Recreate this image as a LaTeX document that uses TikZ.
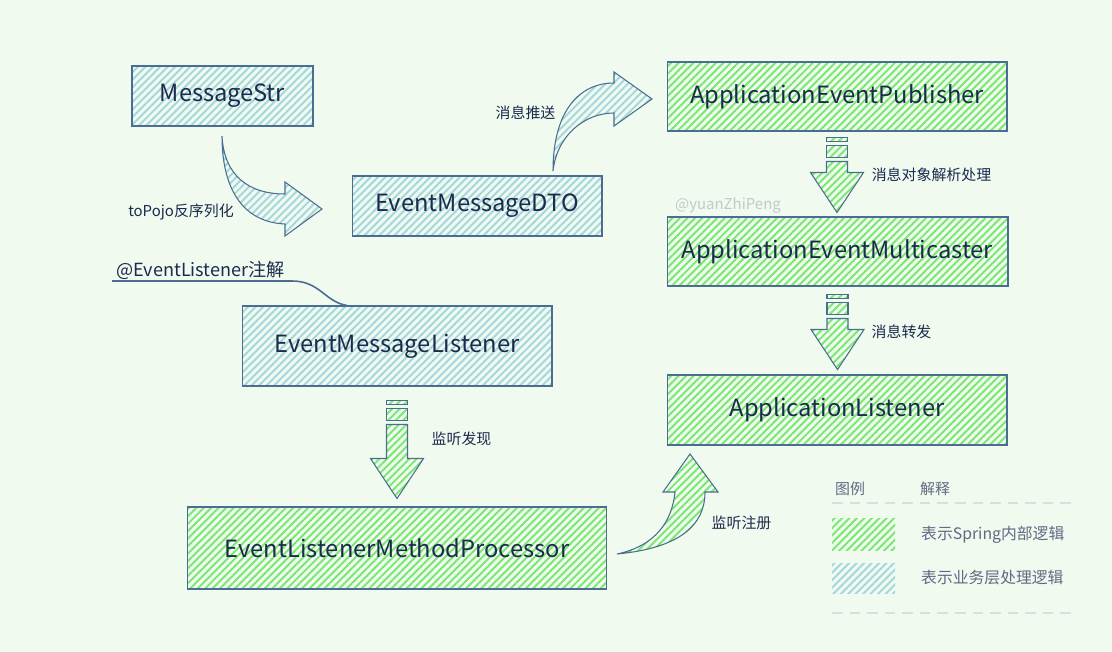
\documentclass[tikz,border=0pt]{standalone}
\usepackage{fontspec}
\setmainfont{Noto Sans CJK SC}
\usetikzlibrary{patterns.meta}

\definecolor{bgcol}{RGB}{240,250,239}
\definecolor{edgecol}{RGB}{74,110,145}
\definecolor{inkcol}{RGB}{28,42,78}
\definecolor{hatchgreen}{RGB}{120,232,112}
\definecolor{hatchblue}{RGB}{164,214,222}
\definecolor{dashcol}{RGB}{218,222,226}
\definecolor{markcol}{RGB}{196,200,200}

\tikzset{
  pics/blockdown/.style={code={
    \draw[greenbox] (-10.5,0) rectangle (10.5,4);
    \draw[greenbox] (-10.5,8) rectangle (10.5,20);
    \draw[greenbox] (-10.5,24) -- (-10.5,#1-40) -- (-26.5,#1-40) -- (0,#1)
      -- (26.5,#1-40) -- (10.5,#1-40) -- (10.5,24) -- cycle;
  }}
}

\begin{document}
\begin{tikzpicture}[x=0.02cm,y=-0.02cm]
  \tikzstyle{greenbox}=[draw=edgecol, line width=0.6pt,
    pattern={Lines[angle=45,distance=3pt,line width=1.1pt]}, pattern color=hatchgreen]
  \tikzstyle{bluebox}=[draw=edgecol, line width=0.6pt,
    pattern={Lines[angle=45,distance=3pt,line width=1.1pt]}, pattern color=hatchblue]
  \tikzstyle{title}=[text=inkcol, font=\fontsize{13.5}{16}\selectfont]
  \tikzstyle{note}=[text=inkcol, font=\fontsize{8.5}{10}\selectfont]
  \tikzstyle{legline}=[dashcol, line width=1.2pt, dash pattern=on 6pt off 4pt]

  \fill[bgcol] (0,0) rectangle (1112,652);
  \useasboundingbox (0,0) rectangle (1112,652);

  % business side
  \node[bluebox, title, minimum width=3.62cm, minimum height=1.2cm] (msg) at (222.5,96) {MessageStr};
  \node[bluebox, title, minimum width=5cm, minimum height=1.2cm] (dto) at (477,206) {EventMessageDTO};
  \node[bluebox, title, minimum width=6.2cm, minimum height=1.6cm] (lsn) at (397,346) {EventMessageListener};
  \node[greenbox, title, minimum width=8.4cm, minimum height=1.64cm] (proc) at (397,548) {EventListenerMethodProcessor};

  % spring side
  \node[greenbox, title, minimum width=6.8cm, minimum height=1.38cm] (pub) at (837,96.5) {ApplicationEventPublisher};
  \node[greenbox, title, minimum width=6.82cm, minimum height=1.38cm] (mc) at (837.5,251.5) {ApplicationEventMulticaster};
  \node[greenbox, title, minimum width=6.8cm, minimum height=1.4cm] (al) at (837,410) {ApplicationListener};

  % curved block arrows
  \draw[bluebox] (222,136) .. controls (224,175) and (248,194) .. (285,194) -- (285,182) -- (322,209)
    -- (285,236) -- (285,224) .. controls (240,222) and (222,185) .. (222,136) -- cycle;
  \draw[bluebox] (553,171) .. controls (553,110) and (580,83) .. (614,83) -- (614,72) -- (652,99)
    -- (614,126) -- (614,113) .. controls (585,113) and (557,135) .. (553,171) -- cycle;
  \draw[greenbox] (617,554) .. controls (680,548) and (705,525) .. (705,492) -- (718,492) -- (690,454)
    -- (663,492) -- (675,492) .. controls (672,522) and (655,546) .. (617,554) -- cycle;

  % straight block arrows
  \pic at ([yshift=-0.28cm]lsn.south) {blockdown=98};
  \pic at ([yshift=-0.12cm]pub.south) {blockdown=75};
  \pic at ([yshift=-0.16cm]mc.south) {blockdown=75};

  % labels
  \node[note] (l1) at (181,212) {toPojo反序列化};
  \node[note] (l2) at (525.5,113) {消息推送};
  \node[note] (l3) at (461.5,439) {监听发现};
  \node[note] (l4) at (931.5,175) {消息对象解析处理};
  \node[note] (l5) at (901.5,332) {消息转发};
  \node[note] (l6) at (741.5,523) {监听注册};
  \node[note, anchor=west, font=\fontsize{10.3}{12}\selectfont] (ann) at (110,270) {@EventListener注解};
  \draw[edgecol, line width=0.9pt] (112,281) -- (292,281) .. controls (320,281) and (325,302) .. (lsn.north west -| 347,0);
  \node[text=markcol, font=\fontsize{8.5}{10}\selectfont] (wm) at (728,205) {@yuanZhiPeng};

  % legend
  \node[note, text=inkcol!70] (lh1) at (850,489) {图例};
  \node[note, text=inkcol!70] (lh2) at (935,489) {解释};
  \draw[legline] (832,503) -- (1073,503);
  \path[pattern={Lines[angle=45,distance=3pt,line width=1.1pt]}, pattern color=hatchgreen] (832,518) rectangle (895,550);
  \path[pattern={Lines[angle=45,distance=3pt,line width=1.1pt]}, pattern color=hatchblue] (832,563) rectangle (895,593);
  \node[note, text=inkcol!70, anchor=west, font=\fontsize{9}{11}\selectfont] (lt1) at (915,535) {表示Spring内部逻辑};
  \node[note, text=inkcol!70, anchor=west, font=\fontsize{9}{11}\selectfont] (lt2) at (915,578) {表示业务层处理逻辑};
  \draw[legline] (832,613) -- (1073,613);
\end{tikzpicture}
\end{document}
